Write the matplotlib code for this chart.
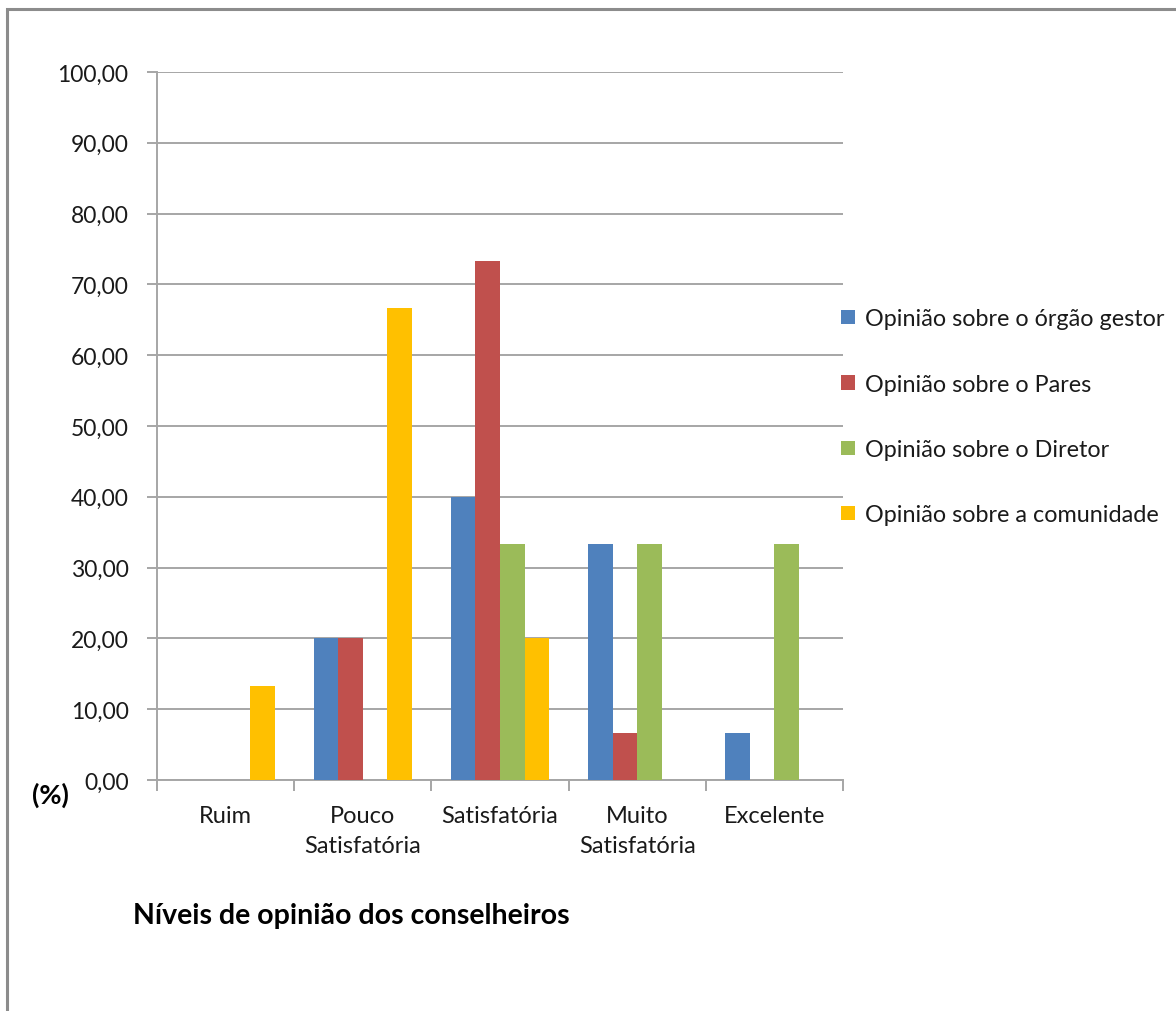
import matplotlib
matplotlib.use("Agg")
import matplotlib.pyplot as plt
from matplotlib.patches import Rectangle, Patch
import numpy as np

plt.rcParams["font.family"] = ["Lato", "DejaVu Sans"]

categories = ["Ruim", "Pouco\nSatisfatória", "Satisfatória", "Muito\nSatisfatória", "Excelente"]
series_names = [
    "Opinião sobre o órgão gestor",
    "Opinião sobre o Pares",
    "Opinião sobre o Diretor",
    "Opinião sobre a comunidade",
]
orgao_gestor = [0.00, 20.00, 40.00, 33.33, 6.67]
pares = [0.00, 20.00, 73.33, 6.67, 0.00]
diretor = [0.00, 0.00, 33.33, 33.33, 33.33]
comunidade = [13.33, 66.67, 20.00, 0.00, 0.00]
y_ticks = [0, 10, 20, 30, 40, 50, 60, 70, 80, 90, 100]
y_tick_labels = ["0,00", "10,00", "20,00", "30,00", "40,00", "50,00",
                 "60,00", "70,00", "80,00", "90,00", "100,00"]

colors = ["#4F81BD", "#C0504D", "#9BBB59", "#FFC000"]
grid_color = "#A6A6A6"
text_color = "#1A1A1A"

W, H = 1176, 1012
fig = plt.figure(figsize=(W / 100, H / 100), dpi=100)

# outer chart frame (runs off the right and bottom edges)
fig.patches.append(Rectangle((7 / W, -0.05), 1.2, 1 - 10 / H + 0.05,
                             transform=fig.transFigure, fill=False,
                             edgecolor="#8C8C8C", linewidth=2.2))

ax = fig.add_axes([157 / W, (H - 781) / H, (843 - 157) / W, (781 - 73) / H])

x = np.arange(len(categories))
bw = 0.179
for j, (vals, name) in enumerate(zip([orgao_gestor, pares, diretor, comunidade], series_names)):
    ax.bar(x + (j - 1.5) * bw, vals, width=bw, color=colors[j], linewidth=0, zorder=3)

ax.set_xlim(-0.5, len(categories) - 0.5)
ax.set_ylim(0, 100)

ax.set_yticks(y_ticks)
ax.set_yticklabels(y_tick_labels, fontsize=16.5, color=text_color)
ax.yaxis.grid(True, color=grid_color, linewidth=1.4, zorder=0)
ax.tick_params(axis="y", length=7, width=1.4, color=grid_color, pad=13.5)

# category boundary ticks, labels centred between them
ax.set_xticks(np.arange(len(categories) + 1) - 0.5)
ax.set_xticklabels([])
ax.tick_params(axis="x", which="major", direction="out", length=8, width=1.4, color=grid_color)
ax.set_xticks(x, minor=True)
ax.set_xticklabels(categories, minor=True, fontsize=17, color=text_color, linespacing=1.55)
ax.tick_params(axis="x", which="minor", length=0, pad=18)

for side in ["top", "right"]:
    ax.spines[side].set_visible(False)
for side in ["left", "bottom"]:
    ax.spines[side].set_color(grid_color)
    ax.spines[side].set_linewidth(1.4)

fig.text(32 / W, 1 - 795 / H, "(%)", fontsize=19.5, fontweight="bold", va="center", ha="left",
         color="black")
fig.text(133 / W, 1 - 916 / H, "Níveis de opinião dos conselheiros", fontsize=20.5,
         fontweight="bold", va="center", ha="left", color="black")

handles = [Patch(facecolor=c, edgecolor="none") for c in colors]
fig.legend(handles, series_names, loc="upper left", bbox_to_anchor=(832 / W, 1 - 300 / H),
           frameon=False, fontsize=16.8, handlelength=0.57, handleheight=0.57,
           handletextpad=0.45, labelspacing=1.9, borderaxespad=0,
           labelcolor=text_color)

fig.savefig("out.png", dpi=100, facecolor="white")
